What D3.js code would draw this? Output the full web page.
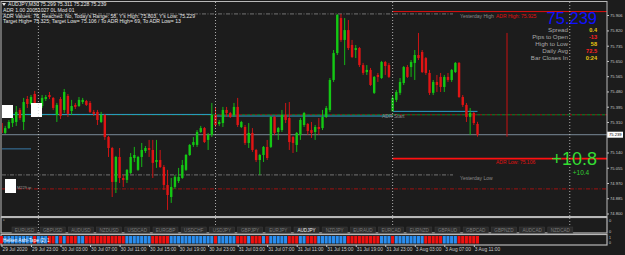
<!DOCTYPE html>
<html>
<head>
<meta charset="utf-8">
<title>AUDJPY,M30</title>
<script src="https://cdnjs.cloudflare.com/ajax/libs/d3/7.8.5/d3.min.js"></script>
<style>
  body { margin: 0; background: #000; }
  svg text { font-family: "Liberation Sans", "DejaVu Sans", sans-serif; }
</style>
</head>
<body>
<script>
// AUDJPY M30, 29 Jul 19:00 .. 3 Aug 11:30
var opens = [75.304,75.249,75.276,75.304,75.310,75.377,75.310,75.438,75.410,75.466,
  75.349,75.399,75.438,75.460,75.444,75.349,75.438,75.377,75.455,75.371,
  75.405,75.399,75.421,75.427,75.416,75.366,75.366,75.310,75.349,75.226,
  75.165,74.976,75.115,74.998,74.987,75.026,75.109,75.043,75.115,75.148,
  75.165,75.154,75.087,75.098,75.059,74.959,74.892,74.948,74.981,74.998,
  75.043,75.126,75.182,75.182,75.254,75.276,75.210,75.238,75.349,75.299,
  75.304,75.377,75.360,75.349,75.394,75.282,75.282,75.193,75.249,75.154,
  75.098,75.126,75.171,75.171,75.338,75.254,75.265,75.349,75.332,75.226,
  75.182,75.238,75.293,75.299,75.265,75.254,75.282,75.276,75.338,75.377,
  75.544,75.694,75.889,75.767,75.822,75.739,75.711,75.722,75.627,75.588,
  75.600,75.472,75.572,75.555,75.644,75.627,75.369,75.433,75.472,75.527,
  75.616,75.616,75.639,75.683,75.700,75.666,75.583,75.472,75.533,75.561,
  75.505,75.561,75.544,75.588,75.639,75.449,75.405,75.338,75.360,75.299];
var highs = [75.316,75.288,75.321,75.366,75.399,75.388,75.444,75.455,75.460,75.483,
  75.405,75.460,75.460,75.477,75.449,75.416,75.449,75.494,75.466,75.433,
  75.416,75.449,75.444,75.433,75.427,75.377,75.377,75.366,75.355,75.232,
  75.171,75.121,75.165,75.015,75.048,75.137,75.171,75.121,75.193,75.176,
  75.210,75.210,75.210,75.154,75.070,75.043,74.998,75.015,75.054,75.098,
  75.132,75.187,75.226,75.265,75.288,75.282,75.249,75.416,75.394,75.321,
  75.394,75.394,75.366,75.416,75.444,75.316,75.293,75.304,75.276,75.160,
  75.132,75.176,75.210,75.343,75.343,75.282,75.377,75.416,75.421,75.232,
  75.254,75.332,75.366,75.304,75.310,75.293,75.332,75.377,75.399,75.555,
  75.711,75.912,75.912,75.889,75.878,75.767,75.739,75.728,75.639,75.627,
  75.611,75.566,75.583,75.650,75.650,75.639,75.460,75.488,75.555,75.622,
  75.627,75.655,75.711,75.806,75.711,75.672,75.600,75.544,75.572,75.583,
  75.572,75.583,75.605,75.644,75.644,75.460,75.416,75.388,75.366,75.311];
var lows = [75.238,75.243,75.271,75.282,75.288,75.321,75.265,75.388,75.405,75.399,
  75.338,75.388,75.427,75.438,75.377,75.310,75.327,75.360,75.338,75.349,
  75.382,75.394,75.410,75.399,75.360,75.343,75.293,75.304,75.210,75.115,
  74.892,74.914,74.970,74.948,74.970,75.020,75.087,75.037,75.059,75.137,
  75.115,74.998,75.054,75.054,74.931,74.820,74.859,74.937,74.970,74.993,
  75.037,75.121,75.171,75.171,75.249,75.193,75.154,75.226,75.282,75.288,
  75.282,75.338,75.332,75.338,75.282,75.276,75.182,75.165,75.143,75.087,
  75.015,75.087,75.098,75.165,75.238,75.210,75.254,75.304,75.154,75.137,
  75.143,75.210,75.282,75.238,75.221,75.210,75.238,75.265,75.332,75.366,
  75.533,75.683,75.756,75.627,75.711,75.666,75.666,75.616,75.572,75.572,
  75.511,75.466,75.533,75.550,75.572,75.555,75.371,75.421,75.460,75.516,
  75.555,75.561,75.544,75.655,75.583,75.572,75.460,75.460,75.477,75.477,
  75.477,75.533,75.533,75.583,75.444,75.394,75.310,75.238,75.293,75.228];
var closes = [75.249,75.276,75.310,75.332,75.366,75.332,75.421,75.410,75.449,75.410,
  75.388,75.444,75.449,75.449,75.388,75.405,75.343,75.477,75.355,75.399,
  75.394,75.433,75.433,75.405,75.366,75.355,75.321,75.349,75.226,75.165,
  74.976,75.115,74.998,74.987,75.043,75.115,75.126,75.115,75.154,75.165,
  75.154,75.082,75.098,75.059,74.959,74.903,74.948,75.004,75.004,75.070,
  75.126,75.182,75.198,75.254,75.276,75.198,75.238,75.349,75.293,75.310,
  75.377,75.360,75.338,75.394,75.293,75.310,75.193,75.249,75.154,75.098,
  75.126,75.171,75.109,75.338,75.249,75.276,75.349,75.321,75.198,75.193,
  75.249,75.321,75.360,75.260,75.249,75.282,75.271,75.338,75.388,75.544,
  75.694,75.906,75.767,75.822,75.722,75.672,75.722,75.627,75.583,75.600,
  75.516,75.561,75.561,75.644,75.622,75.561,75.444,75.477,75.533,75.616,
  75.561,75.644,75.683,75.666,75.588,75.583,75.472,75.533,75.516,75.505,
  75.561,75.544,75.600,75.639,75.449,75.405,75.338,75.360,75.304,75.239];

// Heiken Ashi tape: 1 = blue (up), 0 = red (down)
var haUp = [0,1,1,1,1,1,1,1,1,0, 1,1,1,0,0,1,0,1,0,0,
  0,1,1,0,0,0,0,0,0,0, 0,0,0,0,1,1,1,1,1,1,
  1,0,0,0,0,0,1,1,1,1, 1,1,1,1,1,1,1,1,0,1,
  1,1,1,1,0,0,0,1,0,0, 0,1,0,1,1,1,1,1,0,0,
  0,1,1,0,0,0,1,1,1,1, 1,1,1,1,0,0,0,0,0,0,
  0,0,0,1,1,1,0,1,1,1, 1,1,1,1,1,0,0,0,0,0,
  1,1,1,1,0,0,0,0,0,0];

var timeTickBars = [0,8,16,24,32,40,48,56,64,72,80,88,96,104,112,120,128];
var timeLabels = ["29 Jul 2020","29 Jul 23:00","30 Jul 03:00","30 Jul 07:00","30 Jul 11:00",
  "30 Jul 15:00","30 Jul 19:00","30 Jul 23:00","31 Jul 03:00","31 Jul 07:00","31 Jul 11:00",
  "31 Jul 15:00","31 Jul 19:00","31 Jul 23:00","3 Aug 03:00","3 Aug 07:00","3 Aug 11:00"];
var daySeparators = [10, 58, 106, 154];
var priceTicks = [75.906,75.820,75.735,75.650,75.565,75.480,75.395,75.310,75.140,75.055,74.970,74.885,74.800];

var pairs = ["EURUSD","GBPUSD","AUDUSD","NZDUSD","USDCAD","EURGBP","USDCHF","USDJPY","GBPJPY","EURJPY",
  "AUDJPY","NZDJPY","EURAUD","EURCAD","EURNZD","GBPAUD","GBPCAD","GBPNZD","AUDCAD","NZDCAD"];

var headerLines = ["AUDJPY,M30  75.299 75.311 75.228 75.239",
  "ADR 1.00 20051027 0L Mod 01",
  "ADR Values: 76, Reached: No, Today's Range: 58, Y's High: 75.803, Y's Low: 75.229",
  "Target High= 75.325; Target Low= 75.106 / To ADR High= 69, To ADR Low= 13"];
var infoLabels = ["Spread","Pips to Open","High to Low","Daily Avg","Bar Closes In"];
var infoValues = ["0.4","-13","58","72.5","0:24"];

var lastPrice = 75.239, dayOpen = 75.369, prevOpen = 75.352, prevOpen2 = 75.343;
var adrHigh = 75.925, adrLow = 75.106, yHigh = 75.912, yLow = 75.015;
var pivotLine = 75.350, s1Line = 74.937, leftLine = 75.160;
var todayHigh = 75.806, todayLow = 75.228;

var W = 625, H = 255, chartR = 607;
var svg = d3.select("body").append("svg").attr("width", W).attr("height", H);
svg.append("rect").attr("width", W).attr("height", H).attr("fill", "#1c1c1c");

var x = d3.scaleLinear().domain([0, 129]).range([1.5, 1.5 + 129 * 3.69]);
var y = d3.scaleLinear().domain([74.800, 75.906]).range([213.5, 15]);

svg.append("clipPath").attr("id", "mainClip").append("rect")
    .attr("x", 2).attr("y", 2).attr("width", chartR - 2).attr("height", 214);

var main = svg.append("g").attr("clip-path", "url(#mainClip)");

// day separators
svg.selectAll("line.sep").data(daySeparators).enter().append("line")
    .attr("x1", function (d) { return x(d); }).attr("x2", function (d) { return x(d); })
    .attr("y1", 2).attr("y2", 233)
    .attr("stroke", "#d0d0d0").attr("stroke-width", 0.8).attr("stroke-dasharray", "1,2");

function hline(p, x1, x2, color, width, dash) {
  main.append("line").attr("x1", x1).attr("x2", x2).attr("y1", y(p)).attr("y2", y(p))
      .attr("stroke", color).attr("stroke-width", width)
      .attr("stroke-dasharray", dash || null);
}

// levels
hline(yHigh, 2, 453, "#8a8a8a", 0.8, "4,1.5,1,1.5");
hline(yLow, 2, 453, "#8a8a8a", 0.8, "4,1.5,1,1.5");
hline(s1Line, 2, chartR, "#b01010", 0.9, "4,1.5,1,1.5");
hline(pivotLine, 2, chartR, "#0a8a2a", 1, "3,2");
hline(pivotLine, 2, chartR, "#a01818", 1, "0,3,2,0");
hline(prevOpen, 2, x(57), "#2aa0c8", 1);
hline(prevOpen2, x(58), x(106), "#2aa0c8", 1);
hline(dayOpen, x(106), x(129), "#2aa0c8", 1);
hline(lastPrice, 2, chartR, "#8596a6", 0.9);
hline(leftLine, 2, 31, "#3a7aa8", 1);
hline(adrHigh, x(106), chartR, "#e01010", 1);
hline(adrLow, x(106), chartR, "#ff1010", 1.6);

// today's range marker
main.append("line").attr("x1", 507).attr("x2", 507)
    .attr("y1", y(todayHigh)).attr("y2", y(todayLow))
    .attr("stroke", "#c81010").attr("stroke-width", 1);

// candles
var bars = d3.range(opens.length).map(function (i) {
  return {i: i, o: opens[i], h: highs[i], l: lows[i], c: closes[i]};
});
var upCol = "#14c814", dnCol = "#e01414";
main.selectAll("line.wick").data(bars).enter().append("line")
    .attr("x1", function (d) { return x(d.i); }).attr("x2", function (d) { return x(d.i); })
    .attr("y1", function (d) { return y(d.h); }).attr("y2", function (d) { return y(d.l); })
    .attr("stroke", function (d) { return d.c >= d.o ? upCol : dnCol; })
    .attr("stroke-width", 0.9);
main.selectAll("rect.body").data(bars).enter().append("rect")
    .attr("x", function (d) { return x(d.i) - 1.2; })
    .attr("width", 2.4)
    .attr("y", function (d) { return y(Math.max(d.o, d.c)); })
    .attr("height", function (d) { return Math.max(0.8, Math.abs(y(d.o) - y(d.c))); })
    .attr("fill", function (d) { return d.c >= d.o ? upCol : dnCol; });

// white label boxes on the left
[[1, 105, 12, 13], [31, 103, 11, 14], [5, 179, 11, 14]].forEach(function (b) {
  main.append("rect").attr("x", b[0]).attr("y", b[1]).attr("width", b[2]).attr("height", b[3])
      .attr("fill", "#ffffff");
});
main.append("text").attr("x", 17).attr("y", 189).attr("font-size", 4).attr("fill", "#9a9a9a")
    .text("M229 ip");

// texts on the chart
var small = function (t, px, py, col, anchor, size) {
  return main.append("text").attr("x", px).attr("y", py).attr("fill", col)
      .attr("font-size", size || 5).attr("text-anchor", anchor || "start").text(t);
};
small("ADR Start", 382, 118, "#8a8a8a");
small("Yesterday High", 460, 18, "#8a8a8a");
small("Yesterday Low", 460, 180, "#8a8a8a");
small("ADR High: 75.925", 496, 18, "#e01010");
small("ADR Low: 75.106", 496, 164, "#e01010");

// header
var head = svg.append("g").attr("fill", "#e6e6e6");
head.append("path").attr("d", "M2,3 L6,3 L4,6 Z").attr("fill", "#e6e6e6");
head.selectAll("text").data(headerLines).enter().append("text")
    .attr("x", function (d, i) { return i === 0 ? 8 : 3; })
    .attr("y", function (d, i) { return 6 + i * 5.8; })
    .attr("font-size", 5.1)
    .text(function (d) { return d; });

// info panel
svg.append("text").attr("x", 597).attr("y", 24).attr("text-anchor", "end")
    .attr("font-size", 16.5).attr("fill", "#1010ff").text(lastPrice.toFixed(3));
var infoCols = ["#e8c810", "#ff2020", "#e8c810", "#ff2020", "#e8c810"];
svg.selectAll("text.lbl").data(infoLabels).enter().append("text")
    .attr("x", 568).attr("y", function (d, i) { return 31.5 + i * 7.2; })
    .attr("text-anchor", "end").attr("font-size", 6.2).attr("fill", "#a8a8a8")
    .text(function (d) { return d; });
svg.selectAll("text.val").data(infoValues).enter().append("text")
    .attr("x", 597).attr("y", function (d, i) { return 31.5 + i * 7.2; })
    .attr("text-anchor", "end").attr("font-size", 5.6).attr("font-weight", "bold")
    .attr("fill", function (d, i) { return infoCols[i]; })
    .text(function (d) { return d; });

svg.append("text").attr("x", 597).attr("y", 165).attr("text-anchor", "end")
    .attr("font-size", 18).attr("fill", "#33dd33").text("+10.8");
svg.append("text").attr("x", 581).attr("y", 175).attr("text-anchor", "middle")
    .attr("font-size", 6.5).attr("fill", "#33cc33").text("+10.4");

// price axis
var yAxis = d3.axisRight(y).tickValues(priceTicks).tickSize(2).tickPadding(1)
    .tickFormat(d3.format(".3f"));
var ya = svg.append("g").attr("transform", "translate(" + chartR + ",0)").call(yAxis);
ya.select(".domain").remove();
ya.selectAll("line").attr("stroke", "#c8c8c8");
ya.selectAll("text").attr("fill", "#c8c8c8").attr("font-size", 4.1);

// last price box
svg.append("rect").attr("x", chartR).attr("y", y(lastPrice) - 3).attr("width", 16).attr("height", 6)
    .attr("fill", "#ffffff");
svg.append("text").attr("x", chartR + 2).attr("y", y(lastPrice) + 1.6).attr("font-size", 4.1)
    .attr("fill", "#000").text(lastPrice.toFixed(3));

// frames
var frame = svg.append("g").attr("fill", "none").attr("stroke", "#b8b8b8");
frame.append("rect").attr("x", 1).attr("y", 1.5).attr("width", chartR - 1).attr("height", 215);
frame.append("rect").attr("x", 1).attr("y", 217.5).attr("width", chartR - 1).attr("height", 15.5).attr("stroke-width", 1.2);
frame.append("rect").attr("x", 1).attr("y", 234.5).attr("width", chartR - 1).attr("height", 10.5).attr("stroke-width", 1.2);

// subwindow 1: pair buttons
var bx = d3.scaleLinear().domain([0, 19]).range([12, 12 + 19 * 28.2]);
var btn = svg.selectAll("g.btn").data(pairs).enter().append("g")
    .attr("transform", function (d, i) { return "translate(" + bx(i) + ",227)"; });
btn.append("rect").attr("width", 25).attr("height", 6)
    .attr("fill", "#2b2b2b").attr("stroke", "#3a3a3a").attr("stroke-width", 0.6);
btn.append("text").attr("x", 12.5).attr("y", 4.6).attr("text-anchor", "middle")
    .attr("font-size", 4.6)
    .attr("fill", function (d) { return d === "AUDJPY" ? "#f0f0f0" : "#7a7a7a"; })
    .text(function (d) { return d; });
svg.append("text").attr("x", 3).attr("y", 222).attr("font-size", 4).attr("fill", "#d0d0d0").text("ⁿ");
svg.append("text").attr("x", 609).attr("y", 222).attr("font-size", 4).attr("fill", "#c8c8c8").text("0");
svg.append("text").attr("x", 609).attr("y", 233).attr("font-size", 4).attr("fill", "#c8c8c8").text("0");

// subwindow 2: Heiken Ashi tape
svg.selectAll("rect.ha").data(haUp).enter().append("rect")
    .attr("x", function (d, i) { return x(i) - 1.6; })
    .attr("width", 3.1).attr("y", 236).attr("height", 7.5)
    .attr("fill", function (d) { return d ? "#2a8ef0" : "#f01010"; });
svg.append("text").attr("x", 3).attr("y", 241.5).attr("font-size", 4.6).attr("fill", "#ffffff")
    .text("Heiken Ashi-Tape (2) 1");
svg.append("text").attr("x", 609).attr("y", 238.5).attr("font-size", 3.6).attr("fill", "#c8c8c8").text("1");
svg.append("text").attr("x", 609).attr("y", 244).attr("font-size", 3.6).attr("fill", "#c8c8c8").text("0");

// time axis
var xAxis = d3.axisBottom(x).tickValues(timeTickBars).tickSize(2).tickPadding(1)
    .tickFormat(function (d, i) { return timeLabels[i]; });
var xa = svg.append("g").attr("transform", "translate(0,245)").call(xAxis);
xa.select(".domain").remove();
xa.selectAll("line").attr("stroke", "#c8c8c8");
xa.selectAll("text").attr("fill", "#c8c8c8").attr("font-size", 4.8)
    .attr("text-anchor", "start").attr("dx", 0.5);
</script>
</body>
</html>
